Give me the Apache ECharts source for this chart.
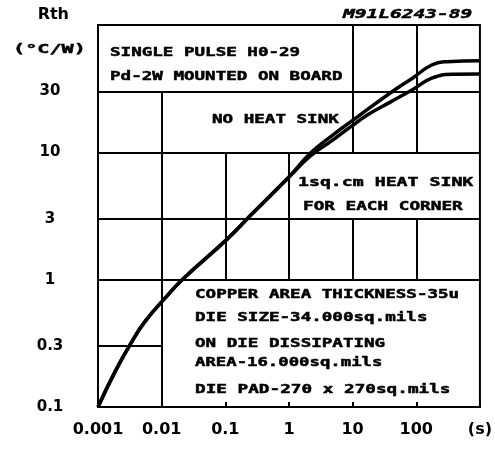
<!DOCTYPE html>
<html><head><meta charset="utf-8">
<script src="https://cdn.jsdelivr.net/npm/echarts@6/dist/echarts.min.js"></script>
<style>html,body{margin:0;padding:0;background:#fff}#c{width:495px;height:449px}</style>
</head><body><div id="c"></div>
<script>
// Tick values and labels
const xTickValues = [0.001, 0.01, 0.1, 1, 10, 100, 1000];
const xTickLabels = ['0.001', '0.01', '0.1', '1', '10', '100', '(s)'];
const yTickValues = [0.1, 0.3, 1, 3, 10, 30];
const yTickLabels = ['0.1', '0.3', '1', '3', '10', '30'];

// Common part of both curves (time in s, Rth in °C/W)
const sharedTime = [0.001, 0.0019, 0.0035, 0.0055, 0.0114, 0.021, 0.11, 0.25, 1];
const sharedRth  = [0.1, 0.194, 0.334, 0.47, 0.72, 1.0, 2.11, 3.2, 6.4];
// No heat sink branch
const noSinkTime = [2.2, 5, 9.4, 41, 87, 175, 300, 1000];
const noSinkRth  = [9.9, 13.8, 17.4, 29.8, 38.2, 48.5, 51.5, 52.5];
// 1 sq.cm heat sink branch
const sinkTime = [2.2, 5, 9.4, 17.5, 39, 87, 175, 378, 1000];
const sinkRth  = [9.4, 12.6, 15.9, 19.8, 24.8, 31, 38.2, 41, 41.2];

// Grid segments of the reference's ruled layout: [value, from, to]
const hGrid = [[30, 0.001, 1000], [10, 0.001, 1000], [3, 0.001, 1000], [1, 0.001, 1000], [0.3, 0.001, 0.01]];
const vGrid = [[0.01, 0.1, 30], [0.1, 1, 10], [1, 1, 10], [10, 1, 3], [10, 10, 100], [100, 1, 3], [100, 10, 100]];

function lookup(values, labels, v) {
  for (let i = 0; i < values.length; i++) {
    if (Math.abs(Math.log10(v) - Math.log10(values[i])) < 1e-6) return labels[i];
  }
  return '';
}
function pairs(ts, rs) { return ts.map((t, i) => [t, rs[i]]); }

const gridSegs = [];
hGrid.forEach(([y, a, b]) => gridSegs.push([{coord: [a, y]}, {coord: [b, y]}]));
vGrid.forEach(([x, a, b]) => gridSegs.push([{coord: [x, a]}, {coord: [x, b]}]));

const mono = '"DejaVu Sans Mono", monospace';
function note(text, x, y, sx, italic) {
  return {
    type: 'text', x: x, y: y, scaleX: sx || 1.35, z: 10, silent: true,
    style: { text: text, font: (italic ? 'italic ' : '') + 'bold 13px ' + mono, fill: '#000',
             stroke: '#000', lineWidth: 0.5, textAlign: 'left', textVerticalAlign: 'middle' }
  };
}

const chart = echarts.init(document.getElementById('c'), null, {renderer: 'canvas'});
chart.setOption({
  animation: false,
  backgroundColor: '#fff',
  grid: { left: 98, right: 15, top: 25, bottom: 42, show: true, borderColor: '#000', borderWidth: 2, backgroundColor: '#fff' },
  xAxis: {
    type: 'log', logBase: 10, min: 0.001, max: 1000, splitNumber: 6,
    axisLine: { show: true, lineStyle: { color: '#000', width: 2 } },
    axisTick: { show: true, inside: true, length: 5, lineStyle: { color: '#000', width: 2 } },
    splitLine: { show: false },
    axisLabel: {
      show: true, margin: 15, color: '#000', fontFamily: '"DejaVu Sans"', fontWeight: 'bold', fontSize: 16,
      showMinLabel: true, showMaxLabel: true,
      formatter: v => lookup(xTickValues, xTickLabels, v)
    }
  },
  yAxis: {
    type: 'log', logBase: 10, min: 0.1, max: 100,
    name: 'Rth', nameLocation: 'end', nameGap: 2,
    nameTextStyle: { color: '#000', fontFamily: '"DejaVu Sans"', fontWeight: 'bold', fontSize: 16, align: 'right', padding: [0, 29, 0, 0] },
    axisLine: { show: true, lineStyle: { color: '#000', width: 2 } },
    axisTick: { show: false },
    splitLine: { show: false },
    axisLabel: {
      show: true, margin: 48, align: 'center', color: '#000', fontFamily: '"DejaVu Sans"', fontWeight: 'bold', fontSize: 15,
      padding: [6, 0, 0, 0],
      customValues: yTickValues,
      formatter: v => lookup(yTickValues, yTickLabels, v)
    }
  },
  series: [
    {
      type: 'line', z: 1, silent: true, data: [],
      markLine: {
        silent: true, symbol: ['none', 'none'], label: { show: false },
        lineStyle: { color: '#000', width: 2, type: 'solid' },
        emphasis: { disabled: true }, animation: false,
        data: gridSegs
      }
    },
    {
      type: 'line', name: 'NO HEAT SINK', z: 3, silent: true, smooth: 0.5,
      symbol: 'none', showSymbol: false,
      lineStyle: { color: '#000', width: 3.5 },
      data: pairs(sharedTime.concat(noSinkTime), sharedRth.concat(noSinkRth))
    },
    {
      type: 'line', name: '1sq.cm HEAT SINK', z: 3, silent: true, smooth: 0.5,
      symbol: 'none', showSymbol: false,
      lineStyle: { color: '#000', width: 3.5 },
      data: pairs(sharedTime.concat(sinkTime), sharedRth.concat(sinkRth))
    }
  ],
  graphic: [
    note('M91L6243-89', 343, 15, 1.5, true),
    note('(°C/W)', 13, 50, 1.55),
    note('SINGLE PULSE H0-29', 110, 53),
    note('Pd-2W MOUNTED ON BOARD', 110, 77),
    note('NO HEAT SINK', 212, 120),
    note('1sq.cm HEAT SINK', 298, 183, 1.4),
    note('FOR EACH CORNER', 303, 207, 1.36),
    note('COPPER AREA THICKNESS-35u', 195, 295),
    note('DIE SIZE-34.000sq.mils', 195, 318),
    note('ON DIE DISSIPATING', 195, 344),
    note('AREA-16.000sq.mils', 195, 363, 1.33),
    note('DIE PAD-270 x 270sq.mils', 195, 390, 1.36)
  ]
});
</script></body></html>
